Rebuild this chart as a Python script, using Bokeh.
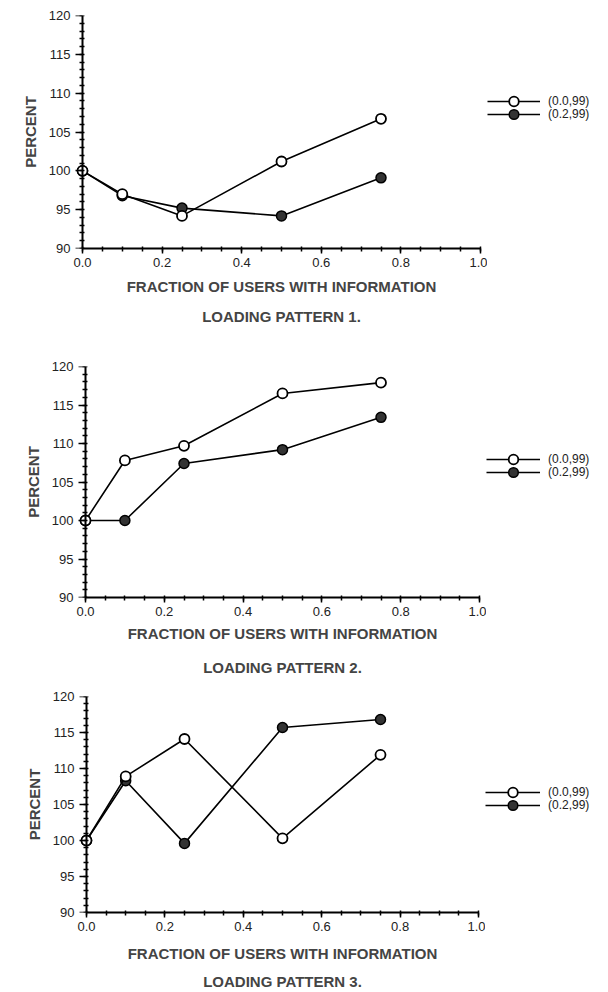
from bokeh.plotting import figure
from bokeh.models import (SingleIntervalTicker, PrintfTickFormatter, Legend, LegendItem,
                          Range1d, LinearAxis, FixedTicker)
from bokeh.layouts import column, row
from bokeh.embed import file_html
from bokeh.resources import INLINE

# ---- data ----
fraction = [0.0, 0.1, 0.25, 0.5, 0.75]
p1_open = [100.0, 97.0, 94.2, 101.2, 106.7]
p1_filled = [100.0, 96.8, 95.2, 94.2, 99.1]
p2_open = [100.0, 107.8, 109.7, 116.5, 117.9]
p2_filled = [100.0, 100.0, 107.4, 109.2, 113.4]
p3_open = [100.0, 108.9, 114.1, 100.3, 111.9]
p3_filled = [100.0, 108.3, 99.6, 115.7, 116.8]
series_labels = ["(0.0,99)", "(0.2,99)"]
panel_titles = ["LOADING PATTERN 1.", "LOADING PATTERN 2.", "LOADING PATTERN 3."]
x_label = "FRACTION OF USERS WITH INFORMATION"
y_label = "PERCENT"

FONT = "Liberation Sans"
W = 608


def style_ticks(ax):
    ax.axis_line_width = 2
    ax.major_tick_line_width = 1.5
    ax.major_tick_in = 0
    ax.minor_tick_out = 3
    ax.minor_tick_in = 2
    ax.minor_tick_line_width = 1.5


def add_series(fig, open_vals, filled_vals, visible=True):
    lf = fig.line(fraction, filled_vals, line_color="black", line_width=1.6, visible=visible)
    sf = fig.scatter(fraction, filled_vals, size=10, fill_color="#333333",
                     line_color="black", line_width=1.5, visible=visible)
    lo = fig.line(fraction, open_vals, line_color="black", line_width=1.6, visible=visible)
    so = fig.scatter(fraction, open_vals, size=10, fill_color="white",
                     line_color="black", line_width=1.8, visible=visible)
    return [lo, so], [lf, sf]


def make_panel(open_vals, filled_vals, title_text, fig_top, frame_top, frame_bottom, fig_bottom,
               x0_px, x1_px, legend_row_y, xlabel_standoff, title_standoff):
    px_per_unit = (x1_px - x0_px)
    frame_left = x0_px - 7
    x_mid = (x0_px + x1_px) / 2.0
    frame_right = int(round(2 * x_mid - frame_left))  # frame centred on the 0..1 axis
    xs = (frame_left - x0_px) / px_per_unit
    xe = (frame_right - x0_px) / px_per_unit
    p = figure(frame_width=frame_right - frame_left, frame_height=frame_bottom - frame_top,
               min_border_left=frame_left, min_border_right=0,
               min_border_top=frame_top - fig_top, min_border_bottom=fig_bottom - frame_bottom,
               x_range=Range1d(xs, xe), y_range=Range1d(90, 120),
               output_backend="svg", toolbar_location=None, title=None)
    p.outline_line_color = None
    p.grid.visible = False
    p.background_fill_color = "white"
    p.border_fill_color = "white"

    # x axis
    xa = p.xaxis[0]
    xa.ticker = SingleIntervalTicker(interval=0.2, num_minor_ticks=4)
    xa.formatter = PrintfTickFormatter(format="%.1f")
    xa.bounds = (0, 1)
    style_ticks(xa)
    xa.major_tick_out = 5
    xa.major_label_text_font = FONT
    xa.major_label_text_font_size = "13px"
    xa.major_label_text_color = "#222222"
    xa.major_label_standoff = 4
    xa.axis_label = x_label
    xa.axis_label_text_font = FONT
    xa.axis_label_text_font_size = "15px"
    xa.axis_label_text_font_style = "bold"
    xa.axis_label_standoff = xlabel_standoff

    # panel caption below the axis (label-only axis)
    cap = LinearAxis(ticker=FixedTicker(ticks=[]), axis_line_color=None,
                     major_tick_out=0, major_tick_in=0, minor_tick_out=0, minor_tick_in=0,
                     major_tick_line_color=None, minor_tick_line_color=None,
                     major_label_standoff=0, axis_label=title_text,
                     axis_label_text_font=FONT, axis_label_text_font_size="15px",
                     axis_label_text_font_style="bold", axis_label_standoff=title_standoff)
    p.add_layout(cap, "below")

    # y axis labels (side panel, no line / ticks)
    ya = p.yaxis[0]
    ya.ticker = SingleIntervalTicker(interval=5, num_minor_ticks=5)
    ya.axis_line_color = None
    ya.major_tick_line_color = None
    ya.minor_tick_line_color = None
    ya.major_tick_out = 0
    ya.major_tick_in = 0
    ya.minor_tick_out = 0
    ya.minor_tick_in = 0
    ya.major_label_text_font = FONT
    ya.major_label_text_font_size = "13px"
    ya.major_label_text_color = "#222222"
    ya.major_label_standoff = 5
    ya.axis_label = y_label
    ya.axis_label_text_font = FONT
    ya.axis_label_text_font_size = "15px"
    ya.axis_label_text_font_style = "bold"
    ya.axis_label_standoff = 7

    # y axis line and ticks at x = 0 (labels not drawn)
    ya2 = LinearAxis(ticker=SingleIntervalTicker(interval=5, num_minor_ticks=5),
                     fixed_location=0, major_label_text_color=None)
    style_ticks(ya2)
    ya2.major_tick_out = 9
    p.add_layout(ya2, "left")

    add_series(p, open_vals, filled_vals)

    # legend figure to the right (hidden copies of the series provide the legend glyphs);
    # its frame is aligned with the main frame by the row layout
    leg_w = W - frame_right
    leg_h = fig_bottom - fig_top
    q = figure(width=leg_w, height=leg_h, min_border=0, x_axis_type=None, y_axis_type=None,
               output_backend="svg", toolbar_location=None, title=None)
    q.outline_line_color = None
    q.background_fill_color = "white"
    q.border_fill_color = "white"
    open_r, filled_r = add_series(q, open_vals, filled_vals, visible=False)
    for k, (rends, lab) in enumerate([(open_r, series_labels[0]), (filled_r, series_labels[1])]):
        leg = Legend(items=[LegendItem(label=lab, renderers=rends)],
                     location=(0, frame_bottom - (legend_row_y[k] + 12)),
                     glyph_width=540 - frame_right, glyph_height=24, label_height=24,
                     label_standoff=8, padding=0, margin=0, spacing=0,
                     border_line_color=None, background_fill_alpha=0,
                     inactive_fill_alpha=0, label_text_font=FONT,
                     label_text_font_size="12px", label_text_color="#222222")
        q.add_layout(leg, "center")
    return row(p, q, spacing=0)


p1 = make_panel(p1_open, p1_filled, panel_titles[0], 0, 15, 248, 338, 82, 480,
                (101, 114), 8, 10)
p2 = make_panel(p2_open, p2_filled, panel_titles[1], 338, 366, 597, 682, 85, 479,
                (459, 472), 6, 14)
p3 = make_panel(p3_open, p3_filled, panel_titles[2], 682, 696, 912, 992, 86, 478,
                (792, 805), 11, 8)

layout = column(p1, p2, p3, spacing=0)
open("out.html", "w").write(file_html(layout, INLINE))
